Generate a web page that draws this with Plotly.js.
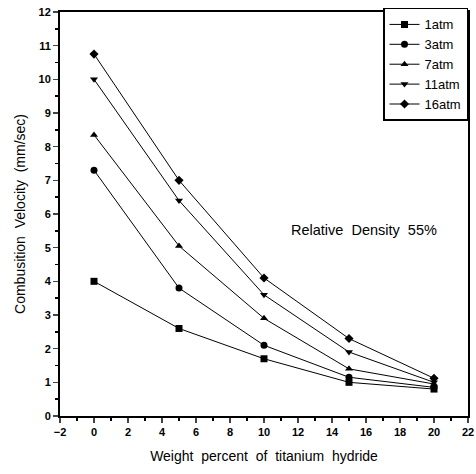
<!DOCTYPE html>
<html><head><meta charset="utf-8">
<script src="https://cdn.plot.ly/plotly-3.0.1.min.js"></script>
<style>html,body{margin:0;padding:0;background:#fff}#c{width:476px;height:474px}</style>
</head><body><div id="c"></div>
<script>
const xWeight = [0, 5, 10, 15, 20];
const seriesNames = ["1atm", "3atm", "7atm", "11atm", "16atm"];
const v1atm  = [4.0, 2.6, 1.7, 1.0, 0.8];
const v3atm  = [7.3, 3.8, 2.1, 1.15, 0.85];
const v7atm  = [8.35, 5.05, 2.9, 1.4, 0.95];
const v11atm = [10.0, 6.4, 3.6, 1.9, 1.0];
const v16atm = [10.75, 7.0, 4.1, 2.3, 1.12];
const symbols = ["square", "circle", "triangle-up", "triangle-down", "diamond"];
const allVals = [v1atm, v3atm, v7atm, v11atm, v16atm];

const traces = allVals.map((v, i) => ({
  x: xWeight, y: v, name: seriesNames[i], type: "scatter", mode: "lines+markers",
  line: {color: "#000", width: 1},
  marker: {symbol: symbols[i], color: "#000", size: 7}
}));

const tickFont = {family: "Arial, Liberation Sans", size: 11, color: "#000", weight: "bold"};
const layout = {
  width: 476, height: 474,
  margin: {l: 60, r: 8, t: 12, b: 58},
  paper_bgcolor: "#fff", plot_bgcolor: "#fff",
  showlegend: true,
  legend: {x: 1, xanchor: "right", y: 1.01, yanchor: "top", bordercolor: "#000", borderwidth: 1.5,
           bgcolor: "#fff", font: {family: "Arial, Liberation Sans", size: 13, color: "#000"},
           tracegroupgap: 0, itemwidth: 30},
  xaxis: {range: [-2, 22], tickmode: "linear", tick0: -2, dtick: 2, ticks: "outside", ticklen: 5,
          tickwidth: 1.5, showline: true, linecolor: "#000", linewidth: 2, mirror: true, showgrid: false,
          zeroline: false, tickfont: tickFont,
          minor: {dtick: 1, ticks: "outside", ticklen: 3, tickcolor: "#000"},
          title: {text: "Weight  percent  of  titanium  hydride", font: {family: "Arial, Liberation Sans", size: 14, color: "#000"}, standoff: 14}},
  yaxis: {range: [0, 12], tickmode: "linear", tick0: 0, dtick: 1, ticks: "outside", ticklen: 5,
          tickwidth: 1.5, showline: true, linecolor: "#000", linewidth: 2, mirror: true, showgrid: false,
          zeroline: false, tickfont: tickFont,
          minor: {dtick: 0.5, ticks: "outside", ticklen: 3, tickcolor: "#000"},
          title: {text: "Combusition  Velocity  (mm/sec)", font: {family: "Arial, Liberation Sans", size: 14, color: "#000"}, standoff: 10}},
  annotations: [{x: 15.9, y: 5.52, xref: "x", yref: "y", text: "Relative  Density  55%", showarrow: false,
                 font: {family: "Arial, Liberation Sans", size: 14.5, color: "#000"}}]
};
Plotly.newPlot("c", traces, layout, {displayModeBar: false, staticPlot: true});
</script></body></html>
